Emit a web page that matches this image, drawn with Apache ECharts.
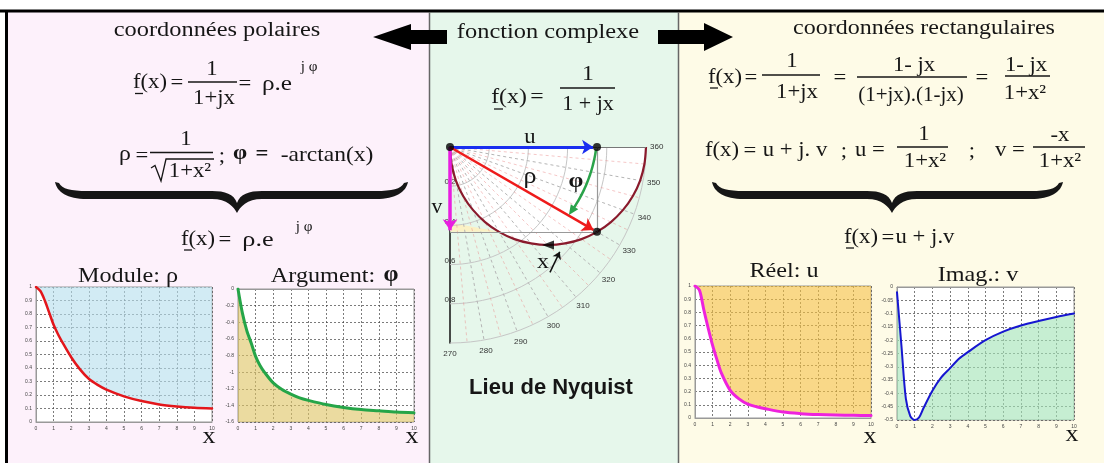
<!DOCTYPE html>
<html>
<head>
<meta charset="utf-8">
<script src="https://cdn.jsdelivr.net/npm/echarts@6/dist/echarts.min.js"></script>
<style>
html,body{margin:0;padding:0;background:#fff;}
#c{width:1104px;height:463px;}
</style>
</head>
<body>
<div id="c"></div>
<script>
// ---- values of f(x) = 1/(1+jx) sampled along x ----
const xs      = [0, 0.25, 0.5, 0.75, 1, 1.25, 1.5, 2, 2.5, 3, 3.5, 4, 5, 6, 7, 8, 9, 10];
const rhoVals = [1, 0.97, 0.9, 0.81, 0.72, 0.65, 0.59, 0.48, 0.39, 0.32, 0.275, 0.24, 0.19, 0.155, 0.13, 0.115, 0.105, 0.1];
const phiVals = [0, -0.29, -0.5, -0.65, -0.81, -0.92, -1.0, -1.13, -1.21, -1.265, -1.31, -1.34, -1.39, -1.425, -1.45, -1.465, -1.48, -1.49];
const uVals   = [1, 0.97, 0.82, 0.68, 0.55, 0.44, 0.34, 0.21, 0.145, 0.105, 0.085, 0.07, 0.045, 0.033, 0.026, 0.022, 0.02, 0.018];
const vVals   = [-0.02, -0.22, -0.42, -0.485, -0.5, -0.49, -0.455, -0.39, -0.34, -0.305, -0.27, -0.245, -0.2, -0.168, -0.145, -0.128, -0.113, -0.1];

// Nyquist locus (u, v), one point every 5 degrees of argument
const locusU = [1, 0.992, 0.97, 0.933, 0.883, 0.821, 0.75, 0.671, 0.587, 0.5, 0.413, 0.329, 0.25, 0.179, 0.117, 0.067, 0.03, 0.008, 0];
const locusV = [0, -0.087, -0.171, -0.25, -0.321, -0.383, -0.433, -0.47, -0.492, -0.5, -0.492, -0.47, -0.433, -0.383, -0.321, -0.25, -0.171, -0.087, 0];
const pointM = [0.75, -0.433];          // the point drawn with its u, v, rho, phi
const ringRadii  = [0.2, 0.4, 0.6, 0.8, 1];
const spokeMain  = [280, 290, 300, 310, 320, 330, 340, 350];
const spokeHalf  = [275, 285, 295, 305, 315, 325, 335, 345, 355];
const angleTicks = [270, 280, 290, 300, 310, 320, 330, 340, 350, 360];
const wedgeU = [0, 0, 0.25];
const wedgeV = [-0.385, -0.433, -0.433];
// curved arrow for phi: from (radius, angle) to (radius, angle), angle in degrees
const phiArc = { r0: 0.745, a0: -1, r1: 0.70, a1: -28.5 };

const SERIF = '"Liberation Serif","Times New Roman",serif';
const SANS  = '"Liberation Sans",Arial,sans-serif';
const INK = '#161616';

const pairs = (a, b) => a.map((v, i) => [v, b[i]]);

// ---------- drawing helpers for the formula layout ----------
function txt(x, y, s, size, o) {
  o = o || {};
  return { type: 'text', x: x, y: y, z: 30, scaleX: o.sx || 1.08, scaleY: 1,
    style: { text: s, font: (o.w || 'normal') + ' ' + size + 'px ' + (o.f || SERIF),
      fill: o.c || INK, textAlign: 'center', textVerticalAlign: 'middle' } };
}
function hl(x1, x2, y, w) {
  return { type: 'line', z: 30, shape: { x1: x1, y1: y, x2: x2, y2: y },
    style: { stroke: INK, lineWidth: w || 1.3 } };
}
function bracePath(x0, x1, xc, top) {
  const aB = top + 17, aT = top + 9, bot = top + 31;
  return [
    'M', x0, top,
    'C', x0 + 2, top + 10, x0 + 12, aB, x0 + 32, aB,
    'L', xc - 25, aB,
    'C', xc - 10, aB, xc - 3, bot - 6, xc, bot,
    'C', xc + 3, bot - 6, xc + 10, aB, xc + 25, aB,
    'L', x1 - 32, aB,
    'C', x1 - 12, aB, x1 - 2, top + 10, x1, top,
    'L', x1 - 4, top + 1,
    'C', x1 - 7, aT - 2, x1 - 16, aT, x1 - 32, aT,
    'L', xc + 25, aT,
    'C', xc + 12, aT, xc + 3, aT + 3, xc, bot - 10,
    'C', xc - 3, aT + 3, xc - 12, aT, xc - 25, aT,
    'L', x0 + 32, aT,
    'C', x0 + 16, aT, x0 + 7, aT - 2, x0 + 4, top + 1, 'Z'
  ].join(' ');
}
function bigArrow(points) {
  return { type: 'polygon', z: 30, shape: { points: points }, style: { fill: '#000' } };
}

const graphics = [
  // panels
  { type: 'rect', z: -10, shape: { x: 5, y: 11, width: 424, height: 452 }, style: { fill: '#fdf1fb' } },
  { type: 'rect', z: -10, shape: { x: 429, y: 11, width: 249, height: 452 }, style: { fill: '#e6f7eb' } },
  { type: 'rect', z: -10, shape: { x: 678, y: 11, width: 426, height: 452 }, style: { fill: '#fefbe7' } },
  { type: 'line', z: 29, shape: { x1: 0, y1: 11, x2: 1104, y2: 11 }, style: { stroke: '#000', lineWidth: 3 } },
  { type: 'line', z: 29, shape: { x1: 6.5, y1: 11, x2: 6.5, y2: 463 }, style: { stroke: '#000', lineWidth: 3 } },
  { type: 'line', z: 29, shape: { x1: 429.5, y1: 12, x2: 429.5, y2: 463 }, style: { stroke: '#666', lineWidth: 1.5 } },
  { type: 'line', z: 29, shape: { x1: 678.5, y1: 12, x2: 678.5, y2: 463 }, style: { stroke: '#666', lineWidth: 1.5 } },

  // headings and arrows
  txt(217, 31, 'coordonnées polaires', 20, { sx: 1.22 }),
  txt(548, 33, 'fonction complexe', 20, { sx: 1.22 }),
  txt(924, 29, 'coordonnées rectangulaires', 20, { sx: 1.2 }),
  bigArrow([[373, 37], [411, 24], [411, 30], [447, 30], [447, 44], [411, 44], [411, 50]]),
  bigArrow([[658, 30], [704, 30], [704, 23], [733, 37], [704, 51], [704, 44], [658, 44]]),

  // polar form
  txt(150, 82, 'f(x)', 21), hl(135, 143, 93.5),
  txt(177, 83, '=', 21),
  txt(212, 69, '1', 21), hl(188, 237, 82), txt(214, 98, '1+jx', 21),
  txt(245, 84, '=', 21), txt(277, 84, 'ρ.e', 21, { sx: 1.2 }), txt(309, 67, 'j φ', 14),

  txt(125, 154, 'ρ', 22), txt(142, 156, '=', 21),
  txt(186, 139, '1', 21), hl(150, 213, 152.5),
  { type: 'polyline', z: 30, shape: { points: [[151, 168], [155, 165.5], [161, 181], [166, 159], [214, 159]] },
    style: { stroke: INK, lineWidth: 1.3, fill: 'none' } },
  txt(190, 171, '1+x²', 21),
  txt(222, 156, ';', 21), txt(240, 154, 'φ', 21, { w: 'bold' }), txt(262, 155, '=', 21, { w: 'bold' }),
  txt(327, 155, '-arctan(x)', 21, { sx: 1.12 }),
  txt(198, 239, 'f(x)', 21), hl(184, 192, 250),
  txt(225, 240, '=', 21), txt(258, 240, 'ρ.e', 21, { sx: 1.25 }), txt(304, 227, 'j φ', 14),
  txt(128, 276, 'Module: ρ', 22, { sx: 1.1 }),
  txt(323, 276, 'Argument:', 22, { sx: 1.1 }),
  txt(391, 275, 'φ', 24, { w: 'bold', sx: 1 }),
  txt(209, 437, 'x', 24), txt(412, 437, 'x', 24),

  // complex function
  txt(509, 97, 'f(x)', 22), hl(494, 503, 109),
  txt(537, 97, '=', 22),
  txt(588, 74, '1', 22), hl(560, 615, 88), txt(588, 104, '1 + jx', 22, { sx: 1 }),
  txt(530, 137, 'u', 21), txt(530, 177, 'ρ', 24), txt(576, 181, 'φ', 22, { w: 'bold' }),
  txt(437, 208, 'v', 20), txt(543, 262, 'x', 22),
  txt(551, 388, 'Lieu de Nyquist', 22, { w: 'bold', f: SANS, sx: 1 }),

  // rectangular form
  txt(725, 77, 'f(x)', 21), hl(710, 718, 88),
  txt(751, 78, '=', 21),
  txt(792, 61, '1', 21), hl(762, 820, 75), txt(797, 92, '1+jx', 21),
  txt(840, 78, '=', 21),
  txt(914, 65, '1- jx', 21), hl(857, 967, 77), txt(911, 95, '(1+jx).(1-jx)', 21, { sx: 1 }),
  txt(982, 78, '=', 21),
  txt(1026, 65, '1- jx', 21), hl(1005, 1050, 76), txt(1025, 93, '1+x²', 21),

  txt(722, 150, 'f(x)', 21), txt(750, 151, '=', 21), txt(795, 150, 'u + j. v', 21), txt(844, 151, ';', 21),
  txt(870, 150, 'u =', 21), txt(924, 134, '1', 21), hl(897, 948, 147), txt(925, 161, '1+x²', 21),
  txt(972, 151, ';', 21),
  txt(1010, 150, 'v =', 21), txt(1060, 135, '-x', 21), hl(1033, 1085, 147), txt(1060, 161, '1+x²', 21),
  txt(861, 237, 'f(x)', 21), hl(846, 854, 248),
  txt(888, 238, '=', 21), txt(925, 237, 'u + j.v', 21),
  txt(784, 271, 'Réel: u', 22, { sx: 1.1 }),
  txt(978, 275, 'Imag.: v', 22, { sx: 1.1 }),
  txt(870, 437, 'x', 24), txt(1072, 435, 'x', 24)
];

// ---------- small x / y charts ----------
const gridLine = { show: true, lineStyle: { color: '#444', type: [2, 2], width: 0.7 } };
function smallX(i) {
  return { type: 'value', gridIndex: i, min: 0, max: 10, interval: 1,
    axisLine: { show: true, lineStyle: { color: '#999', width: 1 } }, axisTick: { show: false },
    axisLabel: { fontSize: 5, color: '#444', margin: 4 }, splitLine: gridLine };
}
function smallY(i, min, max, step) {
  return { type: 'value', gridIndex: i, min: min, max: max, interval: step,
    axisLine: { show: true, lineStyle: { color: '#999', width: 1 } }, axisTick: { show: false },
    axisLabel: { fontSize: 5, color: '#444', margin: 4 }, splitLine: gridLine };
}
function curve(i, vals, color, width, fill, origin) {
  return { type: 'line', xAxisIndex: i, yAxisIndex: i, data: pairs(xs, vals), smooth: 0.3,
    symbol: 'none', silent: true, z: 3,
    lineStyle: { color: color, width: width, cap: 'round', join: 'round' },
    areaStyle: { color: fill, origin: origin, opacity: 1 } };
}

// ---------- Nyquist plane helpers ----------
const NY = 4;
function nyLine(p0, p1, color, width, arrow, z) {
  return { type: 'line', xAxisIndex: NY, yAxisIndex: NY, data: [], z: z || 5, silent: true,
    markLine: { silent: true, animation: false, symbol: ['none', arrow ? 'arrow' : 'none'],
      symbolSize: arrow || 0, label: { show: false },
      lineStyle: { color: color, width: width, type: 'solid' },
      emphasis: { disabled: true },
      data: [[{ coord: p0 }, { coord: p1 }]] } };
}
function spokes(list, color, dash) {
  return { type: 'custom', coordinateSystem: 'cartesian2d', xAxisIndex: NY, yAxisIndex: NY,
    z: 2, silent: true, data: list.map(a => [0, 0, a]),
    renderItem: (params, api) => {
      const t = (api.value(2) - 360) * Math.PI / 180;
      const p0 = api.coord([0, 0]), p1 = api.coord([Math.cos(t), Math.sin(t)]);
      return { type: 'line', shape: { x1: p0[0], y1: p0[1], x2: p1[0], y2: p1[1] },
        style: { stroke: color, lineWidth: 1, lineDash: dash } };
    } };
}

const option = {
  backgroundColor: '#ffffff',
  animation: false,
  textStyle: { fontFamily: SANS },
  graphic: { elements: graphics },
  grid: [
    { left: 36, top: 287, width: 176, height: 135, show: true, backgroundColor: '#fff', borderColor: '#999', borderWidth: 1, outerBoundsMode: 'none' },
    { left: 238, top: 289, width: 176, height: 133, show: true, backgroundColor: '#fff', borderColor: '#999', borderWidth: 1, outerBoundsMode: 'none' },
    { left: 695, top: 286, width: 176, height: 132, show: true, backgroundColor: '#fff', borderColor: '#999', borderWidth: 1, outerBoundsMode: 'none' },
    { left: 897, top: 287, width: 177, height: 133, show: true, backgroundColor: '#fff', borderColor: '#999', borderWidth: 1, outerBoundsMode: 'none' },
    { left: 450, top: 147, width: 196, height: 196, show: false, outerBoundsMode: 'none' }
  ],
  xAxis: [
    smallX(0), smallX(1), smallX(2), smallX(3),
    { type: 'value', gridIndex: NY, min: 0, max: 1, show: false }
  ],
  yAxis: [
    smallY(0, 0, 1, 0.1), smallY(1, -1.6, 0, 0.2), smallY(2, 0, 1, 0.1), smallY(3, -0.5, 0, 0.05),
    { type: 'value', gridIndex: NY, min: -1, max: 0, interval: 0.2,
      axisLine: { show: true, lineStyle: { color: '#111', width: 1.5 } }, axisTick: { show: false },
      splitLine: { show: false },
      axisLabel: { fontSize: 8, color: '#333', margin: 0, align: 'center', verticalAlign: 'bottom',
        formatter: v => (v > -0.99 && v < -0.01) ? (-v).toFixed(1) : '' } }
  ],
  series: [
    curve(0, rhoVals, '#e3161b', 2.5, 'rgba(183,223,237,0.62)', 'end'),
    curve(1, phiVals, '#25a548', 3, 'rgba(222,197,102,0.62)', 'start'),
    curve(2, uVals, '#ee22dd', 3, 'rgba(245,192,63,0.62)', 'end'),
    curve(3, vVals, '#1616d0', 2, 'rgba(163,227,182,0.62)', 'start'),

    // curly braces of both formula columns
    { type: 'custom', coordinateSystem: 'none', silent: true, z: 30, data: [[0]],
      renderItem: () => ({ type: 'group', children: [
        { type: 'path', shape: { pathData: bracePath(55, 408, 237, 182) }, style: { fill: INK } },
        { type: 'path', shape: { pathData: bracePath(712, 1063, 892, 182) }, style: { fill: INK } }
      ] }) },

    // Nyquist: inside of the semicircle
    { type: 'line', xAxisIndex: NY, yAxisIndex: NY, data: pairs(locusU, locusV), smooth: 0.3,
      symbol: 'none', silent: true, z: 1, lineStyle: { width: 0 },
      areaStyle: { color: '#ffffff', origin: 'end', opacity: 1 } },
    // pale wedge below the locus
    { type: 'custom', coordinateSystem: 'cartesian2d', xAxisIndex: NY, yAxisIndex: NY, z: 1, silent: true,
      data: [[0, 0]],
      renderItem: (params, api) => ({ type: 'polygon',
        shape: { points: wedgeU.map((u, i) => api.coord([u, wedgeV[i]])) },
        style: { fill: '#fbf1c4' } }) },
    // polar grid: rings
    { type: 'custom', coordinateSystem: 'cartesian2d', xAxisIndex: NY, yAxisIndex: NY, z: 2, silent: true,
      data: ringRadii.map(r => [r, 0]),
      renderItem: (params, api) => {
        const r = api.value(0), pts = [];
        for (let d = 0; d <= 90; d += 3) {
          const t = -d * Math.PI / 180;
          pts.push(api.coord([r * Math.cos(t), r * Math.sin(t)]));
        }
        return { type: 'polyline', shape: { points: pts }, style: { stroke: '#c6c6c6', lineWidth: 1, fill: 'none' } };
      } },
    spokes(spokeMain, '#b5b5b5', [3, 3]),
    spokes(spokeHalf, 'rgba(232,130,130,0.45)', [3, 3]),
    // angle labels
    { type: 'custom', coordinateSystem: 'cartesian2d', xAxisIndex: NY, yAxisIndex: NY, z: 3, silent: true,
      data: angleTicks.map(a => [0, 0, a]),
      renderItem: (params, api) => {
        const a = api.value(2), t = (a - 360) * Math.PI / 180, r = 1.055;
        const p = api.coord([r * Math.cos(t), r * Math.sin(t)]);
        return { type: 'text', x: p[0], y: p[1],
          style: { text: String(a), font: '8px ' + SANS, fill: '#333', textAlign: 'center', textVerticalAlign: 'middle' } };
      } },
    // construction lines
    nyLine([0, 0], [1, 0], '#777', 1, 0, 3),
    nyLine([pointM[0], 0], pointM, '#999', 1.2, 0, 3),
    nyLine([0, pointM[1]], pointM, '#999', 1.2, 0, 3),
    // locus
    { type: 'line', xAxisIndex: NY, yAxisIndex: NY, data: pairs(locusU, locusV), smooth: 0.3,
      symbol: 'none', silent: true, z: 4, lineStyle: { color: '#8a1a2c', width: 2.2 } },
    // vectors
    nyLine([0, 0], [pointM[0] - 0.02, 0], '#1a2ef0', 3, 11, 6),
    nyLine([0, 0], [0, pointM[1] + 0.008], '#e81ee0', 3.5, 11, 6),
    nyLine([0, 0], [pointM[0] - 0.018, pointM[1] + 0.01], '#ee1b1b', 2.5, 11, 6),
    nyLine([0.51, -0.64], [0.56, -0.535], '#111', 1.5, 7, 6),
    // curved arrow of the argument
    { type: 'custom', coordinateSystem: 'cartesian2d', xAxisIndex: NY, yAxisIndex: NY, z: 6, silent: true,
      data: [[0, 0]],
      renderItem: (params, api) => {
        const pts = [], n = 24;
        for (let k = 0; k <= n; k++) {
          const f = k / n, r = phiArc.r0 + (phiArc.r1 - phiArc.r0) * f;
          const t = (phiArc.a0 + (phiArc.a1 - phiArc.a0) * f) * Math.PI / 180;
          pts.push(api.coord([r * Math.cos(t), r * Math.sin(t)]));
        }
        const P = pts[n], Q = pts[n - 3];
        let dx = P[0] - Q[0], dy = P[1] - Q[1];
        const L = Math.hypot(dx, dy); dx /= L; dy /= L;
        const tip = [P[0] + dx * 3, P[1] + dy * 3], base = [P[0] - dx * 7, P[1] - dy * 7];
        const head = [tip, [base[0] - dy * 4.5, base[1] + dx * 4.5], [base[0] + dy * 4.5, base[1] - dx * 4.5]];
        return { type: 'group', children: [
          { type: 'polyline', shape: { points: pts.slice(0, n - 1) }, style: { stroke: '#2aa34a', lineWidth: 2.5, fill: 'none' } },
          { type: 'polygon', shape: { points: head }, style: { fill: '#2aa34a' } }
        ] };
      } },
    // points
    { type: 'scatter', xAxisIndex: NY, yAxisIndex: NY, z: 8, silent: true, symbolSize: 8,
      itemStyle: { color: '#000' }, data: [[0, 0], [pointM[0], 0], pointM] },
    { type: 'scatter', xAxisIndex: NY, yAxisIndex: NY, z: 8, silent: true, symbol: 'triangle',
      symbolSize: [9, 12], symbolRotate: 90, itemStyle: { color: '#000' }, data: [[0.5, -0.5]] }
  ]
};

const chart = echarts.init(document.getElementById('c'), null, { renderer: 'canvas' });
chart.setOption(option);
</script>
</body>
</html>
